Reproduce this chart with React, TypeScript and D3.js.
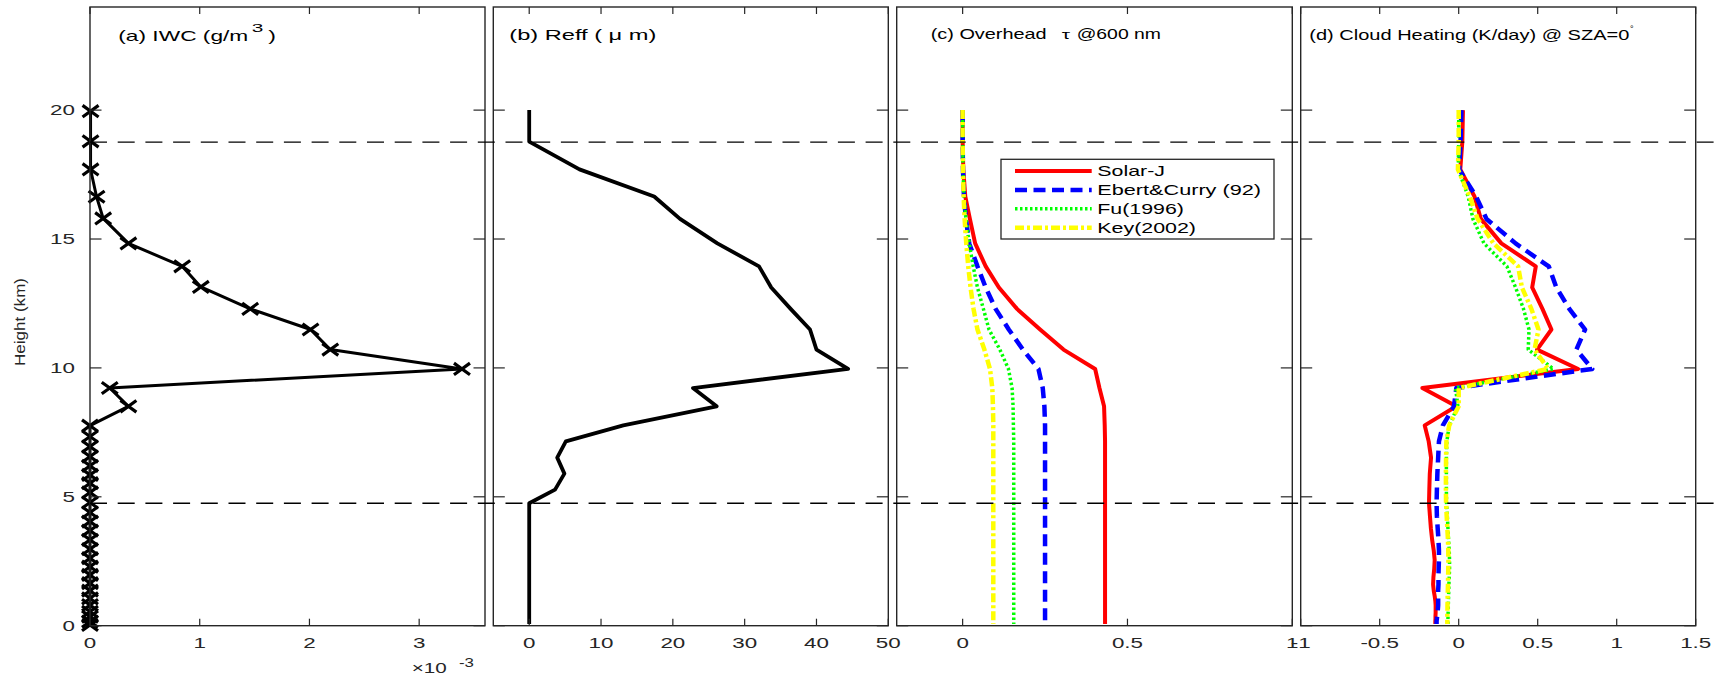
import React from "react";
import * as d3 from "d3";

// ---------------- data ----------------
// model levels used for Reff, optical depth and heating rates (km)
const heightsKm = [20.0, 18.78, 17.7, 16.65, 15.78, 14.83, 13.94, 13.12, 12.29, 11.49, 10.71, 9.96, 9.22, 8.51, 7.77, 7.15, 6.52, 5.9, 5.28, 4.75, 4.25, 3.78, 3.33, 2.92, 2.55, 2.2, 1.88, 1.6, 1.36, 1.15, 0.96, 0.79, 0.64, 0.5, 0.38, 0.27, 0.18, 0.07];

// levels of the IWC markers (km)
const iwcHeightsKm = [19.96, 18.79, 17.7, 16.64, 15.8, 14.83, 13.94, 13.14, 12.29, 11.49, 10.71, 9.96, 9.22, 8.51, 7.76, 7.34, 6.95, 6.56, 6.2, 5.85, 5.53, 5.17, 4.78, 4.39, 4.04, 3.69, 3.33, 2.97, 2.62, 2.29, 1.97, 1.65, 1.36, 1.06, 0.8, 0.54, 0.35, 0.16, 0.03];
// IWC in units of 1e-3 g/m^3
const iwcE3 = [0.005, 0.005, 0.005, 0.06, 0.12, 0.35, 0.84, 1.01, 1.46, 2.01, 2.19, 3.39, 0.18, 0.35, 0, 0, 0, 0, 0, 0, 0, 0, 0, 0, 0, 0, 0, 0, 0, 0, 0, 0, 0, 0, 0, 0, 0, 0, 0];

const reffUm = [0, 0, 7.0, 17.4, 21.0, 26.2, 32.0, 33.7, 36.4, 39.1, 40.0, 44.4, 22.8, 26.1, 13.1, 5.1, 3.9, 4.9, 3.6, 0, 0, 0, 0, 0, 0, 0, 0, 0, 0, 0, 0, 0, 0, 0, 0, 0, 0, 0];

const tauSolarJ = [0, 0, 0.002, 0.008, 0.022, 0.038, 0.07, 0.11, 0.165, 0.235, 0.306, 0.402, 0.415, 0.429, 0.431, 0.432, 0.432, 0.432, 0.432, 0.432, 0.432, 0.432, 0.432, 0.432, 0.432, 0.432, 0.432, 0.432, 0.432, 0.432, 0.432, 0.432, 0.432, 0.432, 0.432, 0.432, 0.432, 0.432];
const tauEbert = [0, 0, 0.001, 0.004, 0.01, 0.02, 0.045, 0.07, 0.1, 0.14, 0.183, 0.23, 0.243, 0.248, 0.25, 0.25, 0.25, 0.25, 0.25, 0.25, 0.25, 0.25, 0.25, 0.25, 0.25, 0.25, 0.25, 0.25, 0.25, 0.25, 0.25, 0.25, 0.25, 0.25, 0.25, 0.25, 0.25, 0.25];
const tauFu = [0, 0, 0.001, 0.004, 0.01, 0.02, 0.032, 0.045, 0.063, 0.08, 0.113, 0.139, 0.15, 0.153, 0.154, 0.155, 0.155, 0.155, 0.155, 0.155, 0.155, 0.155, 0.155, 0.155, 0.155, 0.155, 0.155, 0.155, 0.155, 0.155, 0.155, 0.155, 0.155, 0.155, 0.155, 0.155, 0.155, 0.155];
const tauKey = [0, 0, 0.001, 0.003, 0.006, 0.011, 0.017, 0.024, 0.033, 0.045, 0.066, 0.083, 0.09, 0.092, 0.093, 0.093, 0.093, 0.093, 0.093, 0.093, 0.093, 0.093, 0.093, 0.093, 0.093, 0.093, 0.093, 0.093, 0.093, 0.093, 0.093, 0.093, 0.093, 0.093, 0.093, 0.093, 0.093, 0.093];

const hrSolarJ = [0.027, 0.023, 0.01, 0.1, 0.14, 0.27, 0.488, 0.465, 0.53, 0.587, 0.496, 0.756, -0.23, -0.015, -0.215, -0.19, -0.175, -0.183, -0.186, -0.188, -0.182, -0.176, -0.168, -0.158, -0.152, -0.155, -0.16, -0.162, -0.158, -0.152, -0.148, -0.146, -0.146, -0.146, -0.147, -0.147, -0.148, -0.148];
const hrEbert = [0.017, 0.012, 0.003, 0.11, 0.176, 0.36, 0.57, 0.618, 0.7, 0.8, 0.745, 0.845, -0.015, -0.03, -0.1, -0.125, -0.13, -0.135, -0.138, -0.14, -0.138, -0.133, -0.128, -0.125, -0.125, -0.127, -0.128, -0.128, -0.13, -0.13, -0.13, -0.13, -0.132, -0.134, -0.136, -0.138, -0.14, -0.14];
const hrFu = [0.0, 0.0, -0.003, 0.06, 0.09, 0.16, 0.305, 0.36, 0.41, 0.445, 0.44, 0.6, -0.02, -0.005, -0.06, -0.075, -0.078, -0.078, -0.078, -0.077, -0.072, -0.068, -0.064, -0.06, -0.058, -0.058, -0.06, -0.062, -0.063, -0.064, -0.065, -0.066, -0.066, -0.067, -0.067, -0.068, -0.068, -0.068];
const hrKey = [0.0, 0.0, -0.005, 0.07, 0.12, 0.22, 0.376, 0.4, 0.46, 0.505, 0.48, 0.566, 0.0, 0.0, -0.06, -0.078, -0.08, -0.081, -0.081, -0.08, -0.076, -0.072, -0.068, -0.066, -0.065, -0.066, -0.067, -0.068, -0.069, -0.07, -0.07, -0.071, -0.071, -0.072, -0.072, -0.072, -0.072, -0.072];

const cloudLevelsKm = [18.76, 4.75];

const heightTicks = [0, 5, 10, 15, 20];
const iwcTicks = [0, 1, 2, 3];
const reffTicks = [0, 10, 20, 30, 40, 50];
const tauTicks = [0, 0.5, 1];
const hrTicks = [-1, -0.5, 0, 0.5, 1, 1.5];

const seriesNames = ["Solar-J", "Ebert&Curry (92)", "Fu(1996)", "Key(2002)"];

// ---------------- styling ----------------
const FONT = "'Liberation Sans', Arial, Helvetica, sans-serif";
const AX = "#262626";

const seriesStyles = [
  { stroke: "#ff0000", width: 4, dash: undefined as string | undefined },
  { stroke: "#0000ff", width: 4.5, dash: "12,6.5" },
  { stroke: "#00ff00", width: 3.5, dash: "2.5,2.5" },
  { stroke: "#ffff00", width: 4.5, dash: "9,3,3,3" },
];

function STxt(props: any) {
  const { x, y, sx = 1.6, size = 14, anchor = "start", fill = AX, children } = props;
  return (
    <text
      transform={`translate(${x},${y}) scale(${sx},1)`}
      fontSize={size}
      textAnchor={anchor}
      fill={fill}
      fontFamily={FONT}
    >
      {children}
    </text>
  );
}

export default function App() {
  const W = 1720;
  const H = 680;
  const top = 7;
  const bottom = 625.7;
  const y = d3.scaleLinear().domain([0, 24]).range([bottom, top]);

  const panels = [
    { left: 90, right: 485, domain: [0, 3.6], ticks: iwcTicks },
    { left: 493.3, right: 888.3, domain: [-5, 50], ticks: reffTicks },
    { left: 896.7, right: 1292.3, domain: [-0.2, 1], ticks: tauTicks },
    { left: 1300.7, right: 1695.7, domain: [-1, 1.5], ticks: hrTicks },
  ];
  const xs = panels.map((p) => d3.scaleLinear().domain(p.domain).range([p.left, p.right]));

  const mkLine = (sc: d3.ScaleLinear<number, number>, hs: number[]) =>
    d3
      .line<number>()
      .x((d) => sc(d))
      .y((_, i) => y(hs[i]));

  const tauSeries = [tauSolarJ, tauEbert, tauFu, tauKey];
  const hrSeries = [hrSolarJ, hrEbert, hrFu, hrKey];

  const xTickLen = 7;
  const yTickLen = 11.5;

  return (
    <svg
      width={W}
      height={H}
      style={{ position: "absolute", left: 0, top: 0, background: "#fff" }}
    >
      <rect x={0} y={0} width={W} height={H} fill="#fff" />

      {/* (a) IWC */}
      <path d={mkLine(xs[0], iwcHeightsKm)(iwcE3) || ""} fill="none" stroke="#000" strokeWidth={3} strokeLinejoin="round" />
      {iwcE3.map((v, i) => {
        const cx = xs[0](v);
        const cy = y(iwcHeightsKm[i]);
        return (
          <path
            key={"m" + i}
            d={`M${cx - 8},${cy - 5.8}L${cx + 8},${cy + 5.8}M${cx - 8},${cy + 5.8}L${cx + 8},${cy - 5.8}`}
            stroke="#000"
            strokeWidth={3.2}
            fill="none"
          />
        );
      })}
      {/* (b) Reff */}
      <path d={mkLine(xs[1], heightsKm)(reffUm) || ""} fill="none" stroke="#000" strokeWidth={3.8} strokeLinejoin="round" />
      {/* (c) tau */}
      {tauSeries.map((s, k) => (
        <path
          key={"t" + k}
          d={mkLine(xs[2], heightsKm)(s) || ""}
          fill="none"
          stroke={seriesStyles[k].stroke}
          strokeWidth={seriesStyles[k].width}
          strokeDasharray={seriesStyles[k].dash}
          strokeLinejoin="round"
        />
      ))}
      {/* (d) heating rate */}
      {hrSeries.map((s, k) => (
        <path
          key={"h" + k}
          d={mkLine(xs[3], heightsKm)(s) || ""}
          fill="none"
          stroke={seriesStyles[k].stroke}
          strokeWidth={seriesStyles[k].width}
          strokeDasharray={seriesStyles[k].dash}
          strokeLinejoin="round"
        />
      ))}

      {/* frames and ticks */}
      {panels.map((p, pi) => (
        <g key={"p" + pi}>
          <rect x={p.left} y={top} width={p.right - p.left} height={bottom - top} fill="none" stroke={AX} strokeWidth={1.4} />
          {p.ticks.map((t) => {
            const tx = xs[pi](t);
            return (
              <g key={"xt" + t}>
                <line x1={tx} x2={tx} y1={bottom} y2={bottom - xTickLen} stroke={AX} strokeWidth={1.2} />
                <line x1={tx} x2={tx} y1={top} y2={top + xTickLen} stroke={AX} strokeWidth={1.2} />
                <STxt x={tx} y={648.3} anchor="middle">{String(t)}</STxt>
              </g>
            );
          })}
          {heightTicks.map((h) => (
            <g key={"yt" + h}>
              <line x1={p.left} x2={p.left + yTickLen} y1={y(h)} y2={y(h)} stroke={AX} strokeWidth={1.2} />
              <line x1={p.right} x2={p.right - yTickLen} y1={y(h)} y2={y(h)} stroke={AX} strokeWidth={1.2} />
            </g>
          ))}
        </g>
      ))}

      {/* y tick labels on panel a */}
      {heightTicks.map((h) => (
        <STxt key={"yl" + h} x={75} y={y(h) + 5} anchor="end">{String(h)}</STxt>
      ))}

      {/* y axis label */}
      <text
        transform={`translate(25,322) rotate(-90)`}
        fontSize={14}
        fontFamily={FONT}
        textAnchor="middle"
        fill={AX}
        textLength={88}
        lengthAdjust="spacingAndGlyphs"
      >
        Height (km)
      </text>

      {/* x10^-3 */}
      <text x={411.7} y={673} fontSize={14} fontFamily={FONT} fill={AX} textLength={35} lengthAdjust="spacingAndGlyphs">×10</text>
      <text x={459} y={667} fontSize={12} fontFamily={FONT} fill={AX} textLength={15} lengthAdjust="spacingAndGlyphs">-3</text>

      {/* cloud top/base dashed lines */}
      {cloudLevelsKm.map((h) => (
        <line key={"cl" + h} x1={90} x2={W} y1={y(h)} y2={y(h)} stroke="#000" strokeWidth={1.3} strokeDasharray="17,10.7" />
      ))}

      {/* titles */}
      <text x={118.3} y={40.5} fontSize={14.5} fontFamily={FONT} fill="#000" textLength={130} lengthAdjust="spacingAndGlyphs">(a) IWC (g/m</text>
      <text x={251.7} y={31.5} fontSize={10.5} fontFamily={FONT} fill="#000" textLength={11.6} lengthAdjust="spacingAndGlyphs">3</text>
      <text x={268.3} y={40.5} fontSize={14.5} fontFamily={FONT} fill="#000" textLength={7.7} lengthAdjust="spacingAndGlyphs">)</text>

      <text x={509.3} y={39.5} fontSize={14.5} fontFamily={FONT} fill="#000" textLength={147} lengthAdjust="spacingAndGlyphs">(b) Reff ( μ m)</text>

      <text x={930.7} y={38.5} fontSize={14.5} fontFamily={FONT} fill="#000" textLength={116} lengthAdjust="spacingAndGlyphs">(c) Overhead</text>
      <text x={1061.7} y={38.5} fontSize={12} fontFamily={FONT} fill="#000" textLength={8.3} lengthAdjust="spacingAndGlyphs">τ</text>
      <text x={1076.7} y={38.5} fontSize={14.5} fontFamily={FONT} fill="#000" textLength={84.3} lengthAdjust="spacingAndGlyphs">@600 nm</text>

      <text x={1309.3} y={40} fontSize={14.5} fontFamily={FONT} fill="#000" textLength={320} lengthAdjust="spacingAndGlyphs">(d) Cloud Heating (K/day) @ SZA=0</text>
      <text x={1630} y={32} fontSize={9} fontFamily={FONT} fill="#000">°</text>

      {/* legend */}
      <g>
        <rect x={1001} y={159.3} width={273} height={79.7} fill="#fff" stroke={AX} strokeWidth={1.3} />
        {seriesNames.map((name, k) => {
          const ly = 171 + k * 18.9;
          const widths = [67.7, 163.7, 86.7, 98.7];
          return (
            <g key={"lg" + k}>
              <line
                x1={1015}
                x2={1091.7}
                y1={ly}
                y2={ly}
                stroke={seriesStyles[k].stroke}
                strokeWidth={seriesStyles[k].width}
                strokeDasharray={seriesStyles[k].dash}
              />
              <text x={1097.3} y={ly + 5.3} fontSize={15} fontFamily={FONT} fill="#000" textLength={widths[k]} lengthAdjust="spacingAndGlyphs">
                {name}
              </text>
            </g>
          );
        })}
      </g>
    </svg>
  );
}
